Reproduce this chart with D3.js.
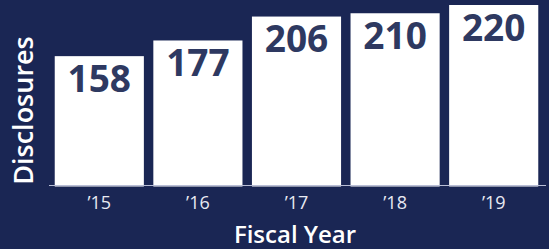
<!DOCTYPE html>
<html>
<head>
<meta charset="utf-8">
<script src="https://cdn.jsdelivr.net/npm/d3@7"></script>
<style>
  html, body { margin: 0; padding: 0; background: #1a2654; }
  svg { display: block; }
</style>
</head>
<body>
<div id="chart"></div>
<script>
const categories = ["2015", "2016", "2017", "2018", "2019"];
const tickLabels = ["\u201915", "\u201916", "\u201917", "\u201918", "\u201919"];
const values = [158, 177, 206, 210, 220];
const yAxisTitle = "Disclosures";
const xAxisTitle = "Fiscal Year";

const W = 549, H = 249;
const svg = d3.select("#chart").append("svg")
  .attr("width", W).attr("height", H);

svg.append("rect").attr("width", W).attr("height", H).attr("fill", "#1a2654");

const x = d3.scaleBand().domain(categories).range([50, 543])
  .paddingInner(0.096).paddingOuter(0.048);
const y = d3.scaleLinear().domain([0, 220]).range([186.5, 5]);

svg.selectAll("rect.bar").data(values).join("rect")
  .attr("class", "bar")
  .attr("x", (d, i) => x(categories[i]))
  .attr("width", x.bandwidth())
  .attr("y", d => y(d))
  .attr("height", d => y(0) - y(d))
  .attr("fill", "#ffffff");

// baseline axis line
svg.append("line")
  .attr("x1", 49).attr("x2", 546)
  .attr("y1", 185.5).attr("y2", 185.5)
  .attr("stroke", "#b9bed6").attr("stroke-width", 1);

svg.selectAll("text.val").data(values).join("text")
  .attr("class", "val")
  .attr("x", (d, i) => x(categories[i]) + x.bandwidth() / 2)
  .attr("y", d => y(d) + 35.5)
  .attr("text-anchor", "middle")
  .attr("font-family", "Open Sans")
  .attr("font-weight", 700)
  .attr("font-size", 37)
  .attr("fill", "#2e3961")
  .text(d => d);

const xAxis = d3.axisBottom(x).tickSize(0).tickFormat((d, i) => tickLabels[i]);
const gx = svg.append("g").attr("transform", "translate(0,186)").call(xAxis);
gx.select(".domain").remove();
gx.selectAll("text")
  .attr("dy", 0).attr("y", 23)
  .attr("font-family", "Open Sans")
  .attr("font-size", 18)
  .attr("fill", "#e8eaf2");

svg.append("text")
  .attr("x", 295).attr("y", 243)
  .attr("text-anchor", "middle")
  .attr("font-family", "Open Sans")
  .attr("font-weight", 600)
  .attr("font-size", 24)
  .attr("fill", "#ffffff")
  .text(xAxisTitle);

svg.append("text")
  .attr("transform", "translate(33,110.5) rotate(-90)")
  .attr("text-anchor", "middle")
  .attr("font-family", "Open Sans")
  .attr("font-weight", 600)
  .attr("font-size", 27)
  .attr("fill", "#ffffff")
  .text(yAxisTitle);
</script>
</body>
</html>
